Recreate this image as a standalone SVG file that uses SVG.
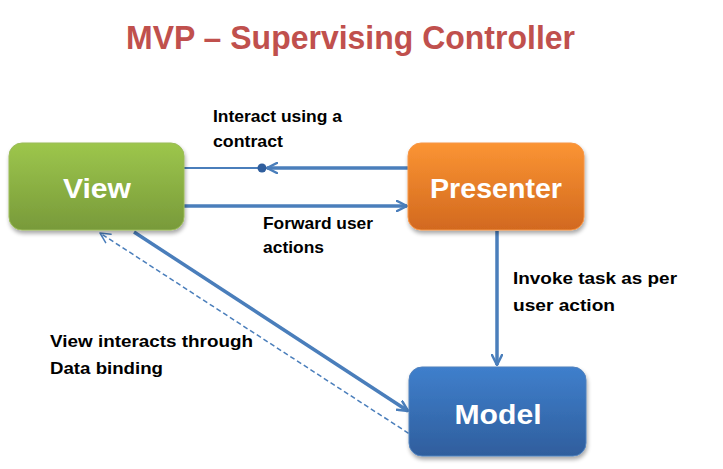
<svg xmlns="http://www.w3.org/2000/svg" width="723" height="469" viewBox="0 0 723 469">
<style>
.lbl{font-family:"Liberation Sans",Arial,sans-serif;font-weight:bold;font-size:17px;fill:#000}
.node{font-family:"Liberation Sans",Arial,sans-serif;font-weight:bold;font-size:27px;fill:#fff;text-anchor:middle}
.title{font-family:"Liberation Sans",Arial,sans-serif;font-weight:bold;font-size:33px;fill:#C0504D}
.c{stroke:#4A7EBB;fill:none;stroke-width:3.5}
</style>
<defs>
<linearGradient id="gG" x1="0" y1="0" x2="0" y2="1"><stop offset="0" stop-color="#9DC64C"/><stop offset="1" stop-color="#789A3A"/></linearGradient>
<linearGradient id="gO" x1="0" y1="0" x2="0" y2="1"><stop offset="0" stop-color="#FB9433"/><stop offset="1" stop-color="#D2691F"/></linearGradient>
<linearGradient id="gB" x1="0" y1="0" x2="0" y2="1"><stop offset="0" stop-color="#3F7FCC"/><stop offset="1" stop-color="#2F5E9D"/></linearGradient>
<filter id="sh" x="-10%" y="-10%" width="125%" height="130%"><feGaussianBlur in="SourceAlpha" stdDeviation="2"/><feOffset dx="1" dy="3"/><feComponentTransfer><feFuncA type="linear" slope="0.35"/></feComponentTransfer><feMerge><feMergeNode/><feMergeNode in="SourceGraphic"/></feMerge></filter>
<marker id="ah" viewBox="0 0 12 12" refX="11" refY="6" markerWidth="12" markerHeight="12" markerUnits="userSpaceOnUse" orient="auto"><path d="M1 1 L11 6 L1 11" fill="none" stroke="#4A7EBB" stroke-width="2.5" stroke-linecap="round" stroke-linejoin="round"/></marker>
<marker id="ahs" viewBox="0 0 12 12" refX="11" refY="6" markerWidth="12" markerHeight="12" markerUnits="userSpaceOnUse" orient="auto"><path d="M1 1 L11 6 L1 11" fill="none" stroke="#4A7EBB" stroke-width="1.5" stroke-linecap="round" stroke-linejoin="round"/></marker>
</defs>
<text class="title" x="126" y="49" textLength="449" lengthAdjust="spacingAndGlyphs">MVP – Supervising Controller</text>
<g id="connectors">
<line x1="184" y1="168" x2="262" y2="168" stroke="#4A7EBB" stroke-width="1.8"/>
<line class="c" x1="408" y1="168" x2="267" y2="168" marker-end="url(#ah)"/>
<circle cx="262" cy="168" r="4.5" fill="#2F5E9D"/>
<line class="c" x1="184" y1="206" x2="407" y2="206" marker-end="url(#ah)"/>
<line class="c" x1="497" y1="231" x2="497" y2="365" marker-end="url(#ah)"/>
<line class="c" x1="134" y1="232" x2="408" y2="411" marker-end="url(#ah)"/>
<line x1="422" y1="442" x2="100" y2="233" stroke="#4A7EBB" stroke-width="1.5" stroke-dasharray="5,3" marker-end="url(#ahs)"/>
</g>
<g id="view"><rect x="9" y="143" width="175" height="87" rx="13" fill="url(#gG)" stroke="#9BBB59" stroke-width="1" filter="url(#sh)"/><text class="node" x="97" y="198" textLength="68" lengthAdjust="spacingAndGlyphs">View</text></g>
<g id="presenter"><rect x="408" y="143" width="176" height="87" rx="13" fill="url(#gO)" stroke="#F79646" stroke-width="1" filter="url(#sh)"/><text class="node" x="496" y="198" textLength="132" lengthAdjust="spacingAndGlyphs">Presenter</text></g>
<g id="model"><rect x="409" y="367" width="177" height="89" rx="13" fill="url(#gB)" stroke="#4F81BD" stroke-width="1" filter="url(#sh)"/><text class="node" x="498" y="424" textLength="87" lengthAdjust="spacingAndGlyphs">Model</text></g>
<g id="labels">
<text class="lbl" x="213" y="122" textLength="129" lengthAdjust="spacingAndGlyphs">Interact using a</text>
<text class="lbl" x="213" y="147" textLength="70" lengthAdjust="spacingAndGlyphs">contract</text>
<text class="lbl" x="263" y="229" textLength="110" lengthAdjust="spacingAndGlyphs">Forward user</text>
<text class="lbl" x="263" y="253" textLength="61" lengthAdjust="spacingAndGlyphs">actions</text>
<text class="lbl" x="513" y="284" textLength="164" lengthAdjust="spacingAndGlyphs">Invoke task as per</text>
<text class="lbl" x="513" y="311" textLength="102" lengthAdjust="spacingAndGlyphs">user action</text>
<text class="lbl" x="50" y="347" textLength="203" lengthAdjust="spacingAndGlyphs">View interacts through</text>
<text class="lbl" x="50" y="374" textLength="113" lengthAdjust="spacingAndGlyphs">Data binding</text>
</g>
</svg>
